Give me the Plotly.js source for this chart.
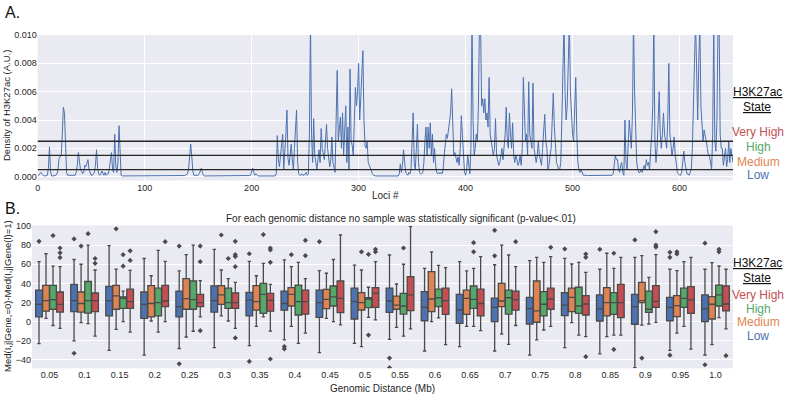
<!DOCTYPE html>
<html>
<head>
<meta charset="utf-8">
<script src="https://cdn.plot.ly/plotly-3.0.1.min.js"></script>
<style>html,body{margin:0;padding:0;background:#fff;}#chart{width:786px;height:417px;}</style>
</head>
<body>
<div id="chart"></div>
<script>
// ---------- Panel A data: H3K27ac density per locus, in units of 1e-4 (A.U.) ----------
const densityE4 = [
1,1,2,3,2,1,0.5,0.5,0.5,1,
6,21,4,0.5,0.5,0.5,0.5,1,2,5,
13,14,15,30,49,45,20,3,1,1,
1,0.5,1,1,0.5,1,3,8,17,10,
5,4,2,3,8,7,10,12,5,2,
1,1,2,3,8,19,6,2,1,2,
4,2,1,3,1,2,2,6,12,17,
5,3,30,8,3,10,36,10,1,0.5,
0.5,0.4,0.4,0.4,0.4,0.4,0.4,0.4,0.4,0.4,
0.4,0.4,0.4,0.4,0.4,0.4,0.4,0.4,0.4,0.4,
0.4,0.4,0.4,0.4,0.4,0.4,0.4,0.4,0.4,0.4,
0.4,0.4,0.4,0.4,0.4,0.4,0.4,0.4,0.4,0.4,
0.4,0.4,0.4,0.4,0.4,0.4,0.4,0.4,0.4,0.4,
0.4,0.4,0.4,0.4,0.5,0.5,0.6,0.8,1,1.5,
2,5,12,23,15,4,1,1,0.5,0.5,
1,2,4,6,3,1,0.5,0.5,0.5,0.5,
0.4,0.4,0.4,0.4,0.4,0.4,0.4,0.4,0.4,0.4,
0.4,0.4,0.4,0.4,0.4,0.4,0.4,0.4,0.4,0.4,
0.4,0.4,0.4,0.4,0.4,0.4,0.4,0.4,0.4,0.4,
0.4,0.4,0.4,0.4,0.4,0.4,0.4,0.5,0.8,1,
3,6,3,1,2,1,0.5,0.5,0.5,0.5,
0.5,0.5,0.5,0.5,0.5,0.5,0.5,0.5,1,1,
1,1,0.5,2,29,12,7,15,25,30,
5,15,30,47,13,8,18,23,12,5,
20,35,47,10,2,1,1,2,1,1,
2,3,1,2,30,110,30,10,41,15,
10,5,12,19,10,34,20,15,12,25,
37,20,15,7,12,28,10,5,3,40,
75,25,35,42,20,45,15,30,50,10,
35,5,76,25,22,15,45,63,50,60,
80,40,55,70,89,40,22,20,25,10,
8,5,3,2,1,0.5,0.5,0.5,0.5,0.5,
0.5,0.5,0.5,0.5,0.5,0.5,0.5,0.5,0.5,0.5,
0.5,0.5,0.5,0.5,0.5,0.5,0.5,0.5,2,9,
3,8,19,8,3,2,1,3,2,5,
25,45,10,5,20,37,10,3,2,2,
3,10,25,35,15,35,20,38,15,30,
10,20,8,3,2,3,2,3,2,5,
15,22,30,27,32,37,45,62,30,15,
17,12,10,14,8,20,43,30,10,3,
1,5,15,8,2,20,110,40,15,20,
30,25,50,110,110,50,55,45,55,40,
45,35,70,30,25,20,15,20,41,15,
10,8,10,15,20,12,20,30,49,25,
20,45,30,20,38,15,10,15,12,8,
10,15,8,20,70,40,25,30,15,67,
30,25,20,66,20,15,10,15,25,15,
10,8,20,30,44,25,20,5,8,15,
20,40,59,35,20,10,8,5,5,10,
40,80,110,60,40,50,110,110,60,40,
30,25,45,70,30,10,5,3,5,2,
1,1,0.8,0.8,0.8,0.8,0.8,0.8,0.8,0.8,
0.8,0.8,0.8,0.8,0.8,0.8,0.8,0.8,0.8,0.8,
0.8,0.8,0.8,0.8,0.8,0.8,0.8,1,2,8,
15,12,12,5,3,8,10,3,1,40,
10,5,20,40,30,20,45,110,60,30,
10,5,3,3,5,3,5,8,5,12,
8,10,5,15,30,50,110,25,10,20,
35,60,30,20,30,45,30,25,20,40,
80,30,20,15,20,28,15,8,3,2,
1,1,3,10,18,10,5,2,2,1,
3,5,20,62,80,110,60,40,80,110,
50,35,25,33,30,25,20,15,15,10,
5,30,110,25,18,40,110,110,30,20,
20,8,15,20,7,12,25,10,20,15,10
];
const thresholds = [0.0005, 0.0015, 0.0025];

// ---------- Panel B data: box statistics per genomic distance ----------
const distances = ['0.05','0.1','0.15','0.2','0.25','0.3','0.35','0.4','0.45','0.5',
                   '0.55','0.6','0.65','0.7','0.75','0.8','0.85','0.9','0.95','1.0'];
const states = ['Low','Medium','High','Very High'];

const lowQ1  = [5,10.5,6,3.5,5,10,6,12,4.6,2.8,9.8,1,-1.7,0,-2.4,6.3,0.7,-2.7,1,0];
const lowMed = [18,22,22,18,15.7,22,22.6,19,20,21,21.6,15,12.2,15,13.6,17.4,13.3,15.7,15,13.3];
const lowQ3  = [33,39,37,31,32,37.5,30.7,32,33,35,35,31.4,28.6,24.6,25.5,30.3,28,28.6,25.5,28];
const lowLo  = [-23,-20,-30,-35,-28,-27,-25,-19,-32.4,-22.6,-18.4,-30.6,-26,-30.6,-35,-27,-33.7,-48,-30,-34.8];
const lowHi  = [62.7,65,79.5,66,53,75.6,63,64.5,53.3,59,69.7,55.8,62.7,59.5,63.8,66.2,54.8,67.2,54.8,54.8];
const lowOut = [[84],[86.5,-33],[],[],[79,-44],[],[71,-41.5],[-26,-28.5],[83.6],[],[-38,-48],[],[],[95.5,68.8],[],[76],[75.6],[85.4],[72.5,67.2,-35],[82,-45]];

const medQ1  = [11,10,13,5,13,18,12,16.4,13.6,12.2,13,10.5,7.7,15.7,-0.6,10.5,6,20,5.2,2.8];
const medMed = [22,19,27,19,24,28,21,28.6,23.4,20,17.4,23.7,24.4,21.6,11.2,25.5,20,22,16.7,18.2];
const medQ3  = [38,31,38,37.6,45,37.6,37.6,35.5,33.8,30.3,26.8,52.3,33,40,42.5,35,35.5,41,27.2,26.1];
const medLo  = [3.5,-1,-8,0.7,-16,6,-5,-5,3.5,-26,-6,0,-5,-13,-19,-1,-15.7,-3.5,-12,-24];
const medHi  = [71,60,55,48,70,54,48,57.5,50.6,54,39.4,73,53,80,67.2,60.3,71.5,69,53.3,61.7];
const medOut = [[],[79],[97],[],[],[90.6],[],[70],[],[73],[],[],[],[],[],[],[],[-38],[73,70.7],[]];

const highQ1  = [13,9,14,6,13,14,8.7,7,16.4,14.6,8,15.7,14,8,6,8.7,7.7,9.8,15,16.4];
const highMed = [23,22,24.4,20,23,20,28.6,21,26,23.7,16.4,25,23.4,25,18.2,16.4,20,13,24.4,28];
const highQ3  = [38,42,26,35,42.5,35,40,38.3,37.3,25,29.6,34,37.3,33,31.4,36,30.3,32,35,38.3];
const highLo  = [-4,-2,0,-11,-10,0.7,5,-22.6,0,4.6,-15,4,-5,-23.6,-8.7,-14,-14,-2.4,-5,4.2];
const highHi  = [58,80,32,74.6,80,45,61,62,65,36,60,58.9,55.8,69.7,62,62,55.8,46.4,62.7,58.2];
const highOut = [[90],[92],[70,58],[],[],[66],[91],[],[],[70.4,-14],[77],[],[82.6,73],[],[],[],[71.5,-29],[],[],[75.6,73]];

const vhQ1  = [10,10.5,14,15.7,15.7,14,11,8,9.4,15,11.5,7.7,6,12,13,7,4.2,15,8.7,11.2];
const vhMed = [18,22,21,21.6,20,20,22.3,21,24.4,29.6,28,22,19,23,23.7,18.5,20,21.3,22.7,18.5];
const vhQ3  = [31,30,34,38,28.6,30,29.6,33,42.5,35.5,47,35,34,32,35,27.2,39,37.6,36.6,37.3];
const vhLo  = [-7,-15,-11,0,5,-7,-9.8,-12,-3.4,1.8,-7.6,-24,-9.4,-4,-5,-15.7,-14,-0.7,-28.6,-7.6];
const vhHi  = [57.5,54,53.7,63,43,41,39,45,90.6,62.7,99.3,56.4,68,57.5,68,51.6,67.2,70,67.2,54.8];
const vhOut = [[77,72,67],[66,61],[74,64],[83.6],[79,62.7,-9.4],[84,70,68,57.5,-17],[77,75,62,-39],[85,69],[],[75.6,73],[],[],[],[83.6],[77.7],[70.7,67.2,-36.6],[],[94,80,78],[],[-35.5]];

const yTicksA = [0, 0.002, 0.004, 0.006, 0.008, 0.010];
const xTicksA = [0, 100, 200, 300, 400, 500, 600];
const yTicksB = [-40, -20, 0, 20, 40, 60, 80, 100];

// ---------- styling ----------
const W = 786, H = 417;
const px = x => x / W;
const py = y => 1 - y / H;
const FONT = 'Liberation Sans, Arial, Helvetica, sans-serif';
const TXT = '#262626';
const colors = ['#4c72b0', '#dd8452', '#55a868', '#c44e52'];
const boxLine = '#4a4a4a';

const loci = densityE4.map((_, i) => i);
const density = densityE4.map(v => v / 10000);

const traces = [{
  type: 'scatter', mode: 'lines', x: loci, y: density, xaxis: 'x', yaxis: 'y',
  line: {color: '#4c72b0', width: 1}, hoverinfo: 'skip'
}];

const groups = [
  [lowQ1, lowMed, lowQ3, lowLo, lowHi, lowOut],
  [medQ1, medMed, medQ3, medLo, medHi, medOut],
  [highQ1, highMed, highQ3, highLo, highHi, highOut],
  [vhQ1, vhMed, vhQ3, vhLo, vhHi, vhOut]
];
const offsets = [-0.3, -0.1, 0.1, 0.3];
groups.forEach((g, h) => {
  const pos = distances.map((_, i) => i + offsets[h]);
  traces.push({
    type: 'box', xaxis: 'x2', yaxis: 'y2', name: states[h],
    x: pos, q1: g[0], median: g[1], q3: g[2], lowerfence: g[3], upperfence: g[4],
    width: 0.19, whiskerwidth: 0.5, fillcolor: colors[h],
    line: {color: boxLine, width: 1.3}, boxpoints: false, hoverinfo: 'skip'
  });
  const ox = [], oy = [];
  g[5].forEach((arr, i) => arr.forEach(v => { ox.push(pos[i]); oy.push(v); }));
  traces.push({
    type: 'scatter', mode: 'markers', xaxis: 'x2', yaxis: 'y2', x: ox, y: oy,
    marker: {symbol: 'diamond', size: 4, color: boxLine}, hoverinfo: 'skip'
  });
});

const tickFont = {family: FONT, size: 9, color: TXT};
const ann = (text, x, y, opts) => Object.assign({
  text, x: px(x), y: py(y), xref: 'paper', yref: 'paper', showarrow: false,
  xanchor: 'center', yanchor: 'middle', font: {family: FONT, size: 10, color: TXT}
}, opts || {});

const legendLines = (y0, yState, yv) => [
  ann('<u>H3K27ac</u>', 757, y0, {font: {family: FONT, size: 12, color: '#111'}}),
  ann('<u>State</u>', 757, yState, {font: {family: FONT, size: 12, color: '#111'}}),
  ann('Very High', 758, yv[0], {font: {family: FONT, size: 12, color: colors[3]}}),
  ann('High', 758, yv[1], {font: {family: FONT, size: 12, color: colors[2]}}),
  ann('Medium', 758, yv[2], {font: {family: FONT, size: 12, color: colors[1]}}),
  ann('Low', 758, yv[3], {font: {family: FONT, size: 12, color: colors[0]}})
];

const layout = {
  width: W, height: H, margin: {l: 0, r: 0, t: 0, b: 0},
  paper_bgcolor: '#ffffff', plot_bgcolor: '#eaeaf2', showlegend: false, boxmode: 'overlay',
  xaxis: {domain: [px(37.7), px(733)], range: [0, 650], anchor: 'y', tickvals: xTicksA,
          showgrid: true, gridcolor: '#ffffff', gridwidth: 1, zeroline: false, ticks: '',
          showline: false, tickfont: tickFont, fixedrange: true},
  yaxis: {domain: [py(180.5), py(35)], range: [-0.00027, 0.010], anchor: 'x', tickvals: yTicksA,
          tickformat: '.3f', showgrid: true, gridcolor: '#ffffff', gridwidth: 1, zeroline: false,
          ticks: '', tickfont: tickFont, fixedrange: true},
  xaxis2: {domain: [px(32), px(733)], range: [-0.5, 19.5], anchor: 'y2',
           tickvals: distances.map((_, i) => i), ticktext: distances, showgrid: false,
           zeroline: false, ticks: '', tickfont: tickFont, fixedrange: true},
  yaxis2: {domain: [py(368.3), py(225.5)], range: [-48.7, 100.5], anchor: 'x2', tickvals: yTicksB,
           showgrid: true, gridcolor: '#ffffff', gridwidth: 1, zeroline: false, ticks: '',
           tickfont: tickFont, fixedrange: true},
  shapes: thresholds.map(t => ({type: 'line', xref: 'x domain', yref: 'y', x0: 0, x1: 1,
           y0: t, y1: t, line: {color: '#262626', width: 1.3}})),
  annotations: [
    ann('A.', 13, 12, {font: {family: FONT, size: 16, color: '#111'}}),
    ann('B.', 13, 208, {font: {family: FONT, size: 16, color: '#111'}}),
    ann('Density of H3K27ac (A.U.)', 7, 106, {textangle: -90, font: {family: FONT, size: 9.5, color: TXT}}),
    ann('Loci #', 385, 195, {font: {family: FONT, size: 10, color: TXT}}),
    ann('For each genomic distance no sample was statistically significant (p-value<.01)', 401, 219,
        {font: {family: FONT, size: 10, color: TXT}}),
    ann('Med(I,j|Gene,=0)-Med(I,j|Gene(l)=1)', 7, 296, {textangle: -90, font: {family: FONT, size: 9.5, color: TXT}}),
    ann('Genomic Distance (Mb)', 382, 388, {font: {family: FONT, size: 10, color: TXT}})
  ].concat(legendLines(92, 107, [132, 147, 161.5, 175]))
   .concat(legendLines(263, 278, [295, 308.5, 322, 335.5]))
};

Plotly.newPlot('chart', traces, layout, {staticPlot: true, displayModeBar: false});
</script>
</body>
</html>
